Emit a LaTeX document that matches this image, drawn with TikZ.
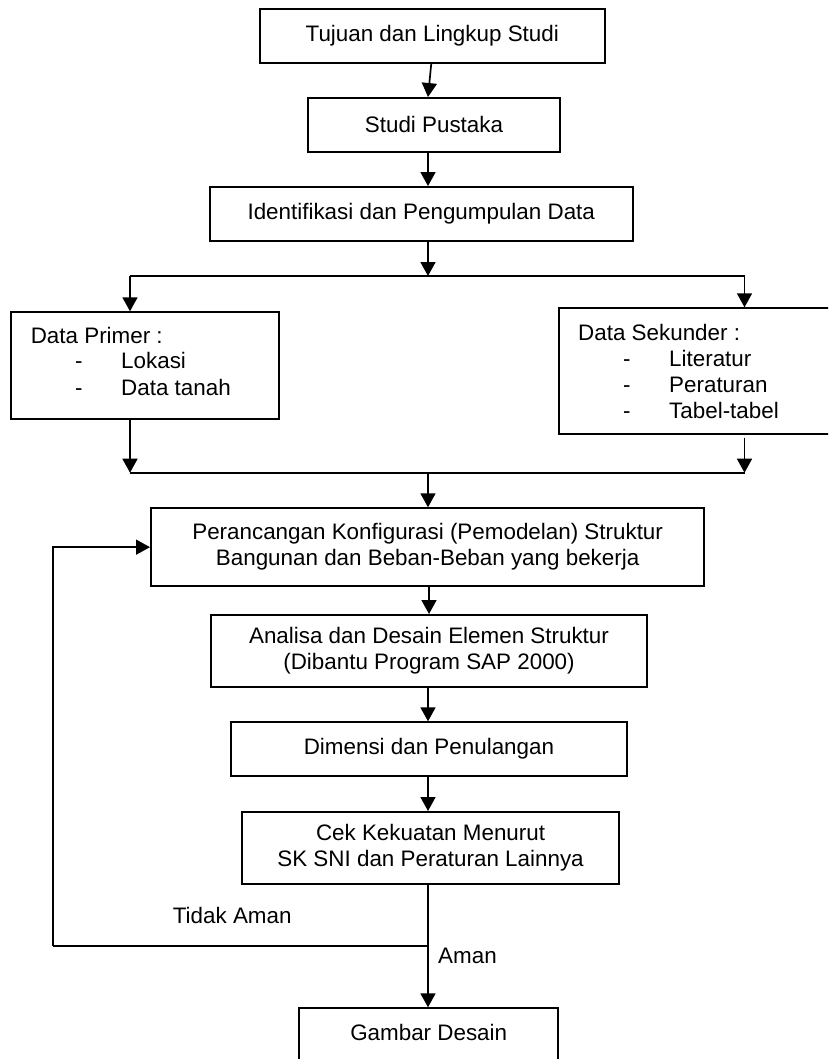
\documentclass[tikz,border=0pt]{standalone}
\usepackage{fontspec}
\setmainfont{Liberation Sans}
\usetikzlibrary{arrows.meta,calc}
\tikzset{
  boxstyle/.style={draw=black, line width=2pt, rectangle, inner sep=0pt, align=center},
  arr/.style={line width=1.7pt, -{Triangle[length=14pt,width=15pt]}},
  ln/.style={line width=1.7pt},
  txt/.style={inner sep=0pt, anchor=base west},
  lbl/.style={inner sep=0pt, anchor=base}
}
\begin{document}
\begin{tikzpicture}[x=1pt,y=-1pt,font=\fontsize{22.4}{26}\selectfont]
\useasboundingbox (0,0) rectangle (828,1059);
\clip (0,0) rectangle (828,1059);
% boxes
\node[boxstyle, minimum width=344.5pt, minimum height=53.4pt] (b1) at (432.25,36) {Tujuan dan Lingkup Studi};
\node[boxstyle, minimum width=252pt, minimum height=53.7pt] (b2) at (434,124.9) {Studi Pustaka};
\node[boxstyle, minimum width=422.5pt, minimum height=53.7pt] (b3) at (421.25,213.9) {Identifikasi dan Pengumpulan Data};
\node[boxstyle, minimum width=268pt, minimum height=107pt] (prim) at (145,365.8) {};
\node[boxstyle, minimum width=281.4pt, minimum height=125.7pt] (sek) at (699.3,371.15) {};
\node[boxstyle, minimum width=553.3pt, minimum height=77.7pt] (b4) at (427.65,547.15) {Perancangan Konfigurasi (Pemodelan) Struktur\\Bangunan dan Beban-Beban yang bekerja};
\node[boxstyle, minimum width=436pt, minimum height=72.3pt] (b5) at (429,651.15) {Analisa dan Desain Elemen Struktur\\(Dibantu Program SAP 2000)};
\node[boxstyle, minimum width=396.5pt, minimum height=53.7pt] (b6) at (428.95,749.15) {Dimensi dan Penulangan};
\node[boxstyle, minimum width=376.5pt, minimum height=72pt] (b7) at (430.55,848) {Cek Kekuatan Menurut\\SK SNI dan Peraturan Lainnya};
\node[boxstyle, minimum width=258.6pt, minimum height=80pt] (b8) at (428.7,1048.3) {};
\node[lbl] (b8t) at (428.7,1040.7) {Gambar Desain};
% list texts
\node[txt] (p0) at (30.6,343.7) {Data Primer :};
\node[txt] (p1d) at (75,368.7) {-};
\node[txt] (p1) at (121,368.7) {Lokasi};
\node[txt] (p2d) at (75,395.3) {-};
\node[txt] (p2) at (121,395.3) {Data tanah};
\node[txt] (s0) at (578,340.3) {Data Sekunder :};
\node[txt] (s1d) at (623,366.3) {-};
\node[txt] (s1) at (669,366.3) {Literatur};
\node[txt] (s2d) at (623,392.3) {-};
\node[txt] (s2) at (669,392.3) {Peraturan};
\node[txt] (s3d) at (623,418) {-};
\node[txt] (s3) at (669,418) {Tabel-tabel};
% labels
\node[lbl] (tidak) at (232.2,923) {Tidak Aman};
\node[lbl] (aman) at (467.5,963) {Aman};
% junctions
\coordinate (sp) at (428,0);
\coordinate (jA) at (428,276);
\coordinate (jAL) at (130,276);
\coordinate (jAR) at (744.5,276);
\coordinate (jB) at (428,472.7);
\coordinate (jBL) at (130,472.7);
\coordinate (jBR) at (744.5,472.7);
\coordinate (jC) at (428,945.7);
\coordinate (jCL) at (52.8,945.7);
% connectors
\draw[arr] ($(b1.south)+(-1,0)$) -- ($(b2.north)+(-6,0)$);
\draw[arr] (b2.south -| sp) -- (b3.north -| sp);
\draw[arr] (b3.south -| sp) -- (jA);
\draw[ln] (jAL) -- (jAR);
\draw[arr] (jAL) -- (prim.north -| jAL);
\draw[arr] (jAR) -- (sek.north -| jAR);
\draw[arr] (prim.south -| jBL) -- (jBL);
\draw[arr] ($(sek.south -| jBR)+(0,2.7)$) -- (jBR);
\draw[ln] (jBL) -- (jBR);
\draw[arr] (jB) -- (b4.north -| sp);
\draw[arr] (b4.south -| b5.north) -- (b5.north);
\draw[arr] (b5.south -| sp) -- (b6.north -| sp);
\draw[arr] (b6.south -| sp) -- (b7.north -| sp);
\draw[arr] (b7.south -| sp) -- (b8.north -| sp);
\draw[ln] (jC) -- (jCL);
\draw[arr] (jCL) |- (b4.west);
\end{tikzpicture}
\end{document}
